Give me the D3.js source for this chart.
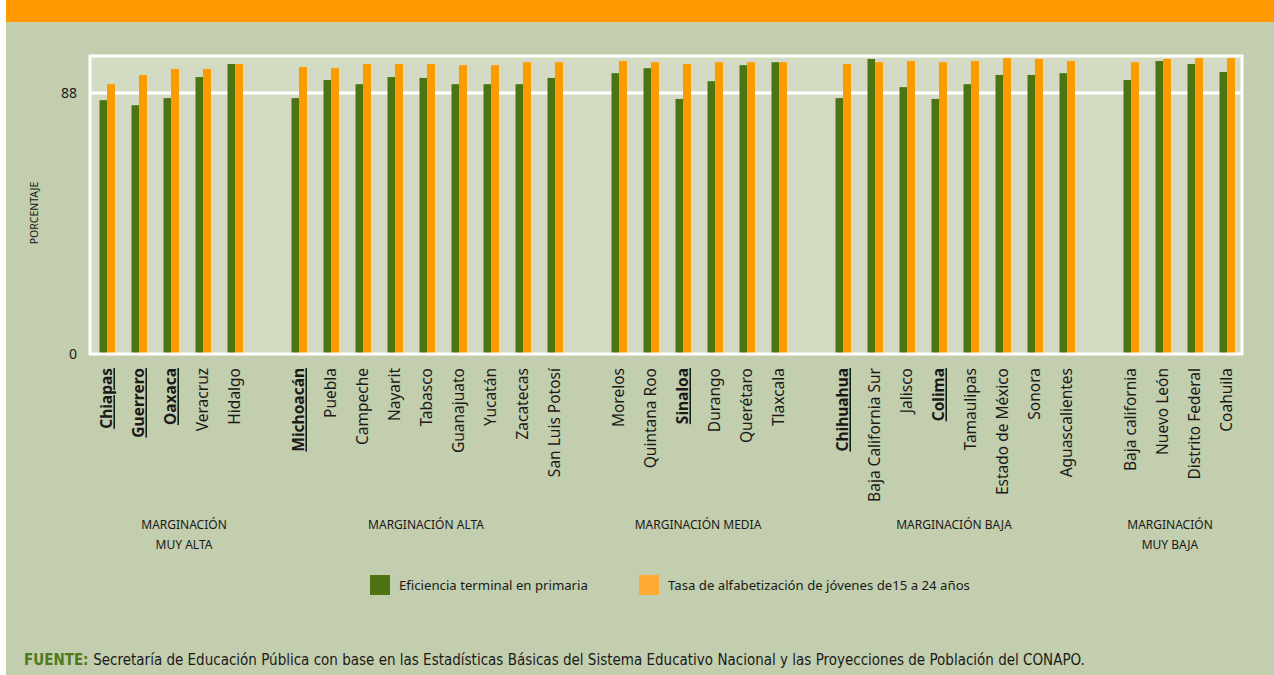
<!DOCTYPE html>
<html>
<head>
<meta charset="utf-8">
<script src="https://cdn.jsdelivr.net/npm/d3@7"></script>
<style>
  html, body { margin: 0; padding: 0; background: #fff; }
  svg { display: block; }
  text { font-family: "Noto Sans", "Open Sans", sans-serif; fill: #1a1a1a; }
</style>
</head>
<body>
<svg id="chart"></svg>
<script>
'use strict';

// states, ordered by group; "" marks an empty slot between groups
var states = [
  "Chiapas", "Guerrero", "Oaxaca", "Veracruz", "Hidalgo", "",
  "Michoacán", "Puebla", "Campeche", "Nayarit", "Tabasco", "Guanajuato", "Yucatán", "Zacatecas", "San Luis Potosí", "",
  "Morelos", "Quintana Roo", "Sinaloa", "Durango", "Querétaro", "Tlaxcala", "",
  "Chihuahua", "Baja California Sur", "Jalisco", "Colima", "Tamaulipas", "Estado de México", "Sonora", "Aguascalientes", "",
  "Baja california", "Nuevo León", "Distrito Federal", "Coahuila"
];
var highlighted = ["Chiapas", "Guerrero", "Oaxaca", "Michoacán", "Sinaloa", "Chihuahua", "Colima"];

// Eficiencia terminal en primaria
var eficiencia = [
  85.6, 83.9, 86.3, 93.4, 97.8, null,
  86.3, 92.4, 91.0, 93.4, 93.1, 91.0, 91.0, 91.0, 93.1, null,
  94.7, 96.4, 86.0, 92.0, 97.4, 98.4, null,
  86.3, 99.5, 90.0, 86.0, 91.0, 94.1, 94.1, 94.7, null,
  92.4, 98.8, 97.8, 95.1
];
// Tasa de alfabetización de jóvenes de 15 a 24 años
var alfabetizacion = [
  91.0, 94.1, 96.1, 96.1, 97.8, null,
  96.8, 96.4, 97.8, 97.8, 97.8, 97.4, 97.4, 98.4, 98.4, null,
  98.8, 98.4, 97.8, 98.4, 98.4, 98.4, null,
  97.8, 98.4, 98.8, 98.4, 98.8, 99.8, 99.5, 98.8, null,
  98.4, 99.5, 99.8, 99.8
];

var groupNames = [["MARGINACIÓN", "MUY ALTA"], ["MARGINACIÓN ALTA"], ["MARGINACIÓN MEDIA"], ["MARGINACIÓN BAJA"], ["MARGINACIÓN", "MUY BAJA"]];
var groupFirst = ["Chiapas", "Michoacán", "Morelos", "Chihuahua", "Baja california"];
var groupLast = ["Hidalgo", "San Luis Potosí", "Tlaxcala", "Aguascalientes", "Coahuila"];

var yTicks = [0, 88];
var seriesNames = ["Eficiencia terminal en primaria", "Tasa de alfabetización de jóvenes de15 a 24 años"];
var fuente = "Secretaría de Educación Pública con base en las Estadísticas Básicas del Sistema Educativo Nacional y las Proyecciones de Población del CONAPO.";

var width = 1274, height = 675;
var green = "#4d7312", orange = "#ff9900", orangeLegend = "#ffab33";

var svg = d3.select("#chart").attr("width", width).attr("height", height);

// background and header band
svg.append("rect").attr("x", 6).attr("y", 0).attr("width", width - 6).attr("height", height).attr("fill", "#c2cead");
svg.append("rect").attr("x", 6).attr("y", 0).attr("width", width - 6).attr("height", 22).attr("fill", "#ff9900");

var plot = { left: 90, right: 1242, top: 56, bottom: 354 };

var x = d3.scaleBand()
  .domain(d3.range(states.length))
  .range([plot.left, plot.right]);
var y = d3.scaleLinear()
  .domain([0, 100.5])
  .range([plot.bottom, plot.top]);

// plot area
svg.append("rect")
  .attr("x", plot.left).attr("y", plot.top)
  .attr("width", plot.right - plot.left).attr("height", plot.bottom - plot.top)
  .attr("fill", "#d4dbc3");

// grid line at 88
svg.append("g").selectAll("line")
  .data(yTicks.filter(function(d) { return d > 0; }))
  .join("line")
  .attr("x1", plot.left).attr("x2", plot.right)
  .attr("y1", function(d) { return y(d); }).attr("y2", function(d) { return y(d); })
  .attr("stroke", "#fff").attr("stroke-width", 3);

// bars
var barW = 7.5;
var slots = svg.append("g").selectAll("g")
  .data(states.map(function(s, i) { return { name: s, i: i, a: eficiencia[i], b: alfabetizacion[i] }; })
    .filter(function(d) { return d.name !== ""; }))
  .join("g")
  .attr("transform", function(d) { return "translate(" + (x(d.i) + x.bandwidth() / 2 + 1) + ",0)"; });

slots.append("rect")
  .attr("x", -barW).attr("width", barW)
  .attr("y", function(d) { return y(d.a); })
  .attr("height", function(d) { return y(0) - y(d.a); })
  .attr("fill", green);
slots.append("rect")
  .attr("x", 0).attr("width", barW + 0.5)
  .attr("y", function(d) { return y(d.b); })
  .attr("height", function(d) { return y(0) - y(d.b); })
  .attr("fill", orange);

// frame
svg.append("rect")
  .attr("x", plot.left).attr("y", plot.top)
  .attr("width", plot.right - plot.left).attr("height", plot.bottom - plot.top)
  .attr("fill", "none").attr("stroke", "#fff").attr("stroke-width", 3);

// y tick labels
svg.append("g").selectAll("text")
  .data(yTicks)
  .join("text")
  .attr("x", 77).attr("y", function(d) { return y(d); })
  .attr("dy", "0.35em")
  .attr("text-anchor", "end")
  .style("font-size", "14px")
  .text(function(d) { return d; });

svg.append("text")
  .attr("transform", "translate(38,213) rotate(-90)")
  .attr("text-anchor", "middle")
  .style("font-size", "10.5px")
  .text("PORCENTAJE");

// state labels
slots.append("text")
  .attr("transform", "translate(0,368) rotate(-90)")
  .attr("dy", "0.35em")
  .attr("text-anchor", "end")
  .style("font-size", "15.5px")
  .style("font-weight", function(d) { return highlighted.indexOf(d.name) >= 0 ? "bold" : "normal"; })
  .style("text-decoration", function(d) { return highlighted.indexOf(d.name) >= 0 ? "underline" : "none"; })
  .text(function(d) { return d.name; });

// group labels
var groups = svg.append("g").selectAll("text")
  .data(groupNames)
  .join("text")
  .attr("text-anchor", "middle")
  .style("font-size", "12px")
  .attr("transform", function(d, i) {
    var a = x(states.indexOf(groupFirst[i])), b = x(states.indexOf(groupLast[i])) + x.bandwidth();
    return "translate(" + ((a + b) / 2 + (i === 0 ? 14 : i === 4 ? -8 : 0)) + ",529)";
  });
groups.selectAll("tspan")
  .data(function(d) { return d; })
  .join("tspan")
  .attr("x", 0)
  .attr("y", function(d, j) { return j * 20; })
  .text(function(d) { return d; });

// legend
var legend = svg.append("g").selectAll("g")
  .data(seriesNames)
  .join("g")
  .attr("transform", function(d, i) { return "translate(" + (i === 0 ? 370 : 639) + ",575)"; });
legend.append("rect")
  .attr("width", 20).attr("height", 20)
  .attr("fill", function(d, i) { return i === 0 ? green : orangeLegend; });
legend.append("text")
  .attr("x", 29).attr("y", 10).attr("dy", "0.35em")
  .style("font-size", "13.2px")
  .text(function(d) { return d; });

// source
var src = svg.append("text")
  .attr("x", 24).attr("y", 665)
  .style("font-family", "'Liberation Sans Narrow', 'DejaVu Sans Condensed', sans-serif")
  .style("font-size", "15px");
src.append("tspan").style("font-weight", "bold").style("fill", "#4e7a1b").text("FUENTE: ");
src.append("tspan").text(fuente);
</script>
</body>
</html>
